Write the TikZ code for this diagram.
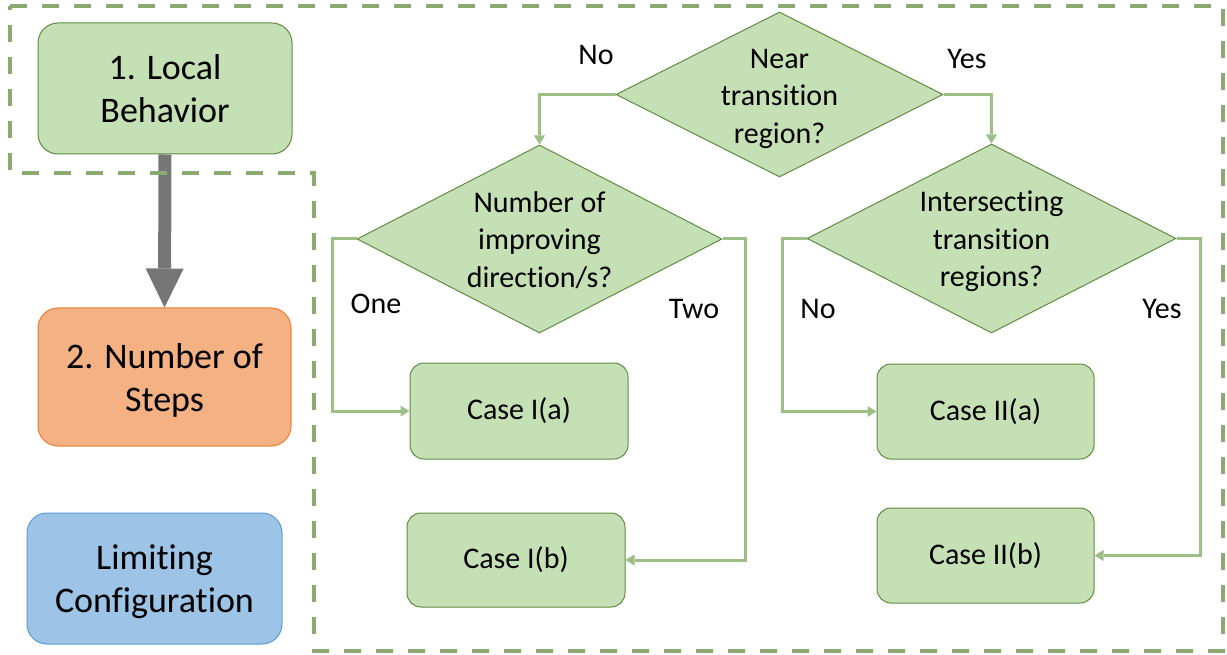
\documentclass[tikz,border=0pt]{standalone}
\usepackage{fontspec}
\setmainfont{Carlito}[Ligatures=CommonOff]
\usetikzlibrary{arrows.meta,shapes.geometric}

\definecolor{leaf}{RGB}{197,224,180}
\definecolor{leafline}{RGB}{96,140,66}
\definecolor{peach}{RGB}{244,177,131}
\definecolor{peachline}{RGB}{237,125,49}
\definecolor{sky}{RGB}{157,195,230}
\definecolor{skyline}{RGB}{91,155,213}
\definecolor{framegreen}{RGB}{138,170,112}
\definecolor{linkgreen}{RGB}{157,190,133}
\definecolor{shaftgray}{RGB}{118,118,118}

\begin{document}
\begin{tikzpicture}[x=1pt,y=-1pt,
  bigtext/.style={font=\fontsize{36}{43}\selectfont, align=center},
  flowtext/.style={font=\fontsize{30}{37.5}\selectfont, align=center},
  stagebox/.style={line width=1pt, rounded corners=20pt, inner sep=0pt},
  casebox/.style={draw=leafline, fill=leaf, line width=1pt, rounded corners=14pt,
                  inner sep=0pt, minimum width=217pt, minimum height=95pt, flowtext},
  decision/.style={diamond, draw=leafline, fill=leaf, line width=1pt, inner sep=0pt},
  flowlink/.style={draw=linkgreen, line width=3pt,
                   -{Triangle[width=11pt,length=9pt,line width=0pt]}},
  answer/.style={flowtext, inner sep=0pt},
]
\useasboundingbox (0,0) rectangle (1227,655);

% left column: stages
\node[stagebox, draw=leafline, fill=leaf, minimum width=254pt, minimum height=131pt,
      label={[bigtext]center:1. Local\\Behavior}] (local) at (165,88.5) {};
\node[stagebox, draw=peachline, fill=peach, minimum width=253pt, minimum height=138pt,
      label={[bigtext, yshift=-3pt]center:2. Number of\\Steps}] (steps) at (164.5,377) {};
\node[stagebox, draw=skyline, fill=sky, minimum width=255pt, minimum height=131pt,
      label={[bigtext, yshift=-3.5pt]center:Limiting\\Configuration}] (limit) at (154.5,578.5) {};

\draw[shaftgray, line width=13pt, -{Triangle[width=38pt,length=39pt,line width=0pt]}]
  (local.south) -- (steps.north);

% decisions
\node[decision, minimum width=327pt, minimum height=165pt,
      label={[flowtext, yshift=-4pt]center:Near\\transition\\region?}] (near) at (779.5,94.5) {};
\node[decision, minimum width=365pt, minimum height=188pt,
      label={[flowtext, yshift=-1pt]center:Number of\\improving\\direction/s?}] (count) at (539.5,239) {};
\node[decision, minimum width=369pt, minimum height=189pt,
      label={[flowtext, yshift=-3pt]center:Intersecting\\transition\\regions?}] (cross) at (991.5,238.5) {};

% cases
\node[casebox, minimum width=218pt, minimum height=96pt] (c1a) at (519,411) {Case I(a)};
\node[casebox, minimum width=218pt, minimum height=94pt] (c1b) at (516,560) {Case I(b)};
\node[casebox] (c2a) at (985.5,411.5) {Case II(a)};
\node[casebox] (c2b) at (985.5,555.5) {Case II(b)};

% connectors
\draw[flowlink] (near.west) -| (count.north);
\draw[flowlink] (near.east) -| (cross.north);
\draw[flowlink] (count.west) -- ++(-24,0) |- (c1a.west);
\draw[flowlink] (count.east) -- ++(23,0) |- (c1b.east);
\draw[flowlink] (cross.west) -- ++(-24,0) |- (c2a.west);
\draw[flowlink] (cross.east) -- ++(24,0) |- (c2b.east);

% branch labels
\node[answer] (nearno)  at (596,55)  {No};
\node[answer] (nearyes) at (967,59)  {Yes};
\node[answer] (one)     at (376,304) {One};
\node[answer] (two)     at (694,309) {Two};
\node[answer] (crossno) at (818,309) {No};
\node[answer] (crossyes) at (1162,309) {Yes};

% dashed grouping frame
\draw[framegreen, line width=4pt, dash pattern=on 17pt off 15pt]
  (10,6) -- (1223,6) -- (1223,651) -- (314,651) -- (314,173) -- (10,173) -- cycle;
\end{tikzpicture}
\end{document}
